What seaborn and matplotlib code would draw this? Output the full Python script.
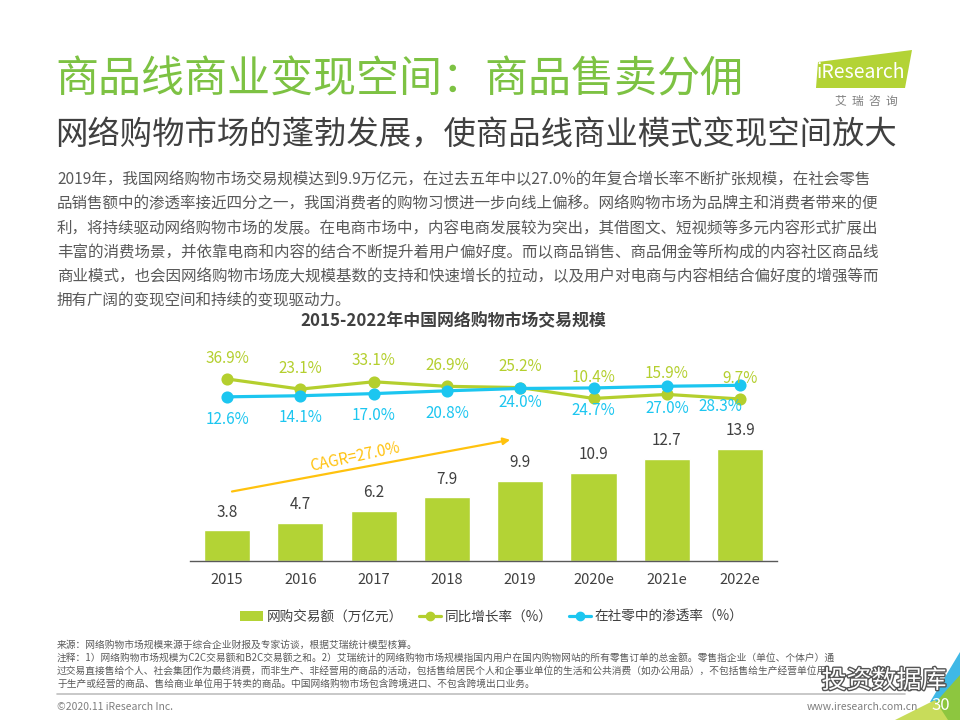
import numpy as np
import pandas as pd
import matplotlib
matplotlib.use("Agg")
import matplotlib.pyplot as plt
import matplotlib.patheffects as pe
from matplotlib.patches import Patch, Polygon
from matplotlib.lines import Line2D
import seaborn as sns

# ─────────────────────────────────────────────
# DATA
# ─────────────────────────────────────────────

years = ["2015", "2016", "2017", "2018", "2019", "2020e", "2021e", "2022e"]
volume = [3.8, 4.7, 6.2, 7.9, 9.9, 10.9, 12.7, 13.9]          # 万亿元
growth = [36.9, 23.1, 33.1, 26.9, 25.2, 10.4, 15.9, 9.7]      # 同比增长率 %
penetration = [12.6, 14.1, 17.0, 20.8, 24.0, 24.7, 27.0, 28.3]  # 在社零中的渗透率 %

legend_labels = ["网购交易额（万亿元）", "同比增长率（%）", "在社零中的渗透率（%）"]

title = "商品线商业变现空间：商品售卖分佣"
subtitle = "网络购物市场的蓬勃发展，使商品线商业模式变现空间放大"
chart_title = "2015-2022年中国网络购物市场交易规模"
cagr_text = "CAGR=27.0%"

body_lines = [
    "2019年，我国网络购物市场交易规模达到9.9万亿元，在过去五年中以27.0%的年复合增长率不断扩张规模，在社会零售",
    "品销售额中的渗透率接近四分之一，我国消费者的购物习惯进一步向线上偏移。网络购物市场为品牌主和消费者带来的便",
    "利，将持续驱动网络购物市场的发展。在电商市场中，内容电商发展较为突出，其借图文、短视频等多元内容形式扩展出",
    "丰富的消费场景，并依靠电商和内容的结合不断提升着用户偏好度。而以商品销售、商品佣金等所构成的内容社区商品线",
    "商业模式，也会因网络购物市场庞大规模基数的支持和快速增长的拉动，以及用户对电商与内容相结合偏好度的增强等而",
    "拥有广阔的变现空间和持续的变现驱动力。",
]

footer_lines = [
    "来源：网络购物市场规模来源于综合企业财报及专家访谈，根据艾瑞统计模型核算。",
    "注释：1）网络购物市场规模为C2C交易额和B2C交易额之和。2）艾瑞统计的网络购物市场规模指国内用户在国内购物网站的所有零售订单的总金额。零售指企业（单位、个体户）通",
    "过交易直接售给个人、社会集团作为最终消费，而非生产、非经营用的商品的活动，包括售给居民个人和企事业单位的生活和公共消费（如办公用品），不包括售给生产经营单位用",
    "于生产或经营的商品、售给商业单位用于转卖的商品。中国网络购物市场包含跨境进口、不包含跨境出口业务。",
]

# ─────────────────────────────────────────────
# STYLE
# ─────────────────────────────────────────────

BAR = "#B3D335"
GREEN = "#B4CF2E"
CYAN = "#1CC6F0"
GOLD = "#FFC20E"
TITLE_GREEN = "#7DC243"
DARK = "#404040"
GRAY = "#595959"

sns.set_theme(style="white")
plt.rcParams["font.family"] = ["Noto Sans CJK SC", "DejaVu Sans"]

W, H = 960, 720
fig = plt.figure(figsize=(9.6, 7.2), dpi=100)


def fx(px):
    return px / W


def fy(py):
    return 1 - py / H


# ─────────────────────────────────────────────
# HEADER
# ─────────────────────────────────────────────

fig.text(fx(55), fy(80), title, fontsize=31, color=TITLE_GREEN, va="center", ha="left")
fig.text(fx(55), fy(136), subtitle, fontsize=23.3, color=DARK, va="center", ha="left")

for i, line in enumerate(body_lines):
    fig.text(fx(57), fy(180 + 24.2 * i), line, fontsize=11.2, color=GRAY, va="center", ha="left")

# logo
logo = Polygon([(fx(818), fy(62)), (fx(912), fy(50)), (fx(905), fy(88)), (fx(816), fy(88))],
               closed=True, transform=fig.transFigure, facecolor="#B3D335", edgecolor="none")
fig.patches.append(logo)
fig.text(fx(861), fy(72), "iResearch", fontsize=14, color="white", ha="center", va="center")
fig.text(fx(866), fy(101), "艾  瑞  咨  询", fontsize=8.5, color="#7f7f7f", ha="center", va="center")

# ─────────────────────────────────────────────
# CHART
# ─────────────────────────────────────────────

fig.text(fx(453), fy(321), chart_title, fontsize=12.2, fontweight="bold", color=DARK,
         ha="center", va="center")

ax = fig.add_axes([fx(190.4), fy(561), fx(586.4), (561 - 340) / H])
sns.barplot(x=years, y=volume, color=BAR, saturation=1, width=0.63, ax=ax)
ax.set_ylim(0, 221 / 8.06)
ax.bar_label(ax.containers[0], labels=[f"{v:.1f}" for v in volume],
             padding=7, fontsize=11, color=DARK)

ax2 = ax.twinx()
sns.pointplot(x=years, y=growth, color=GREEN, markers="o", markersize=7,
              linewidth=2.3, ax=ax2)
sns.pointplot(x=years, y=penetration, color=CYAN, markers="o", markersize=7,
              linewidth=2.3, ax=ax2)
ax2.set_ylim((406.1 - 561) / 0.735, (406.1 - 340) / 0.735)
ax.set_xlim(-0.5, len(years) - 0.5)

for i, v in enumerate(growth):
    ax2.annotate(f"{v:.1f}%", (i, v), xytext=(0, 15), textcoords="offset points",
                 ha="center", va="center", fontsize=11, color=GREEN)

cyan_shift = {4: (0, -10), 7: (-14, -15)}
for i, v in enumerate(penetration):
    ax2.annotate(f"{v:.1f}%", (i, v), xytext=cyan_shift.get(i, (0, -16)),
                 textcoords="offset points", ha="center", va="center",
                 fontsize=11, color=CYAN)

# CAGR arrow
ax.annotate("", xy=(3.9, 15.1), xytext=(0.03, 8.56),
            arrowprops=dict(arrowstyle="-|>", color=GOLD, lw=1.6, mutation_scale=10))
ax.text(1.75, 12.9, cagr_text, rotation=12, fontsize=11, color=GOLD,
        ha="center", va="center")

for a in (ax, ax2):
    for s in ["top", "left", "right"]:
        a.spines[s].set_visible(False)
    a.set_yticks([])
    a.set_ylabel("")
    a.set_xlabel("")
    a.grid(False)
ax2.spines["bottom"].set_visible(False)
ax.spines["bottom"].set_color(GRAY)
ax.spines["bottom"].set_linewidth(1)
ax.tick_params(axis="x", length=0, pad=9, labelsize=10.5, labelcolor=DARK)
ax2.tick_params(axis="x", length=0)

handles = [
    Patch(facecolor=BAR, edgecolor="none"),
    Line2D([0], [0], color=GREEN, lw=2.3, marker="o", markersize=6),
    Line2D([0], [0], color=CYAN, lw=2.3, marker="o", markersize=6),
]
fig.legend(handles, legend_labels, loc="center", bbox_to_anchor=(fx(492), fy(617)),
           ncol=3, frameon=False, fontsize=9.8, handlelength=1.65, handleheight=0.8,
           columnspacing=1.2, handletextpad=0.25, labelcolor=DARK)

# ─────────────────────────────────────────────
# FOOTER
# ─────────────────────────────────────────────

for i, line in enumerate(footer_lines):
    fig.text(fx(57), fy(645 + 13 * i), line, fontsize=7, color=GRAY, va="center", ha="left")

fig.add_artist(Line2D([fx(57), fx(905)], [fy(694), fy(694)], color="#BFBFBF", lw=1.2,
                      transform=fig.transFigure))
fig.text(fx(57), fy(707), "©2020.11 iResearch Inc.", fontsize=7.5, color="#7f7f7f", va="center")
fig.text(fx(918), fy(707), "www.iresearch.com.cn", fontsize=7.5, color="#7f7f7f",
         va="center", ha="right")

for pts, col in [
    ([(960, 652), (960, 702), (930, 702)], "#3FB8E6"),
    ([(920, 720), (960, 675), (960, 720)], "#8DC63F"),
    ([(895, 720), (935, 700), (948, 720)], "#C8DC5A"),
]:
    fig.patches.append(Polygon([(fx(x), fy(y)) for x, y in pts], closed=True,
                               transform=fig.transFigure, facecolor=col, edgecolor="none"))
fig.text(fx(941), fy(705), "30", fontsize=12, color="white", ha="center", va="center")

fig.text(fx(884), fy(681), "投资数据库", fontsize=18, color="white", ha="center", va="center",
         path_effects=[pe.withStroke(linewidth=2, foreground="#555555")])

fig.savefig("out.png", dpi=100)
